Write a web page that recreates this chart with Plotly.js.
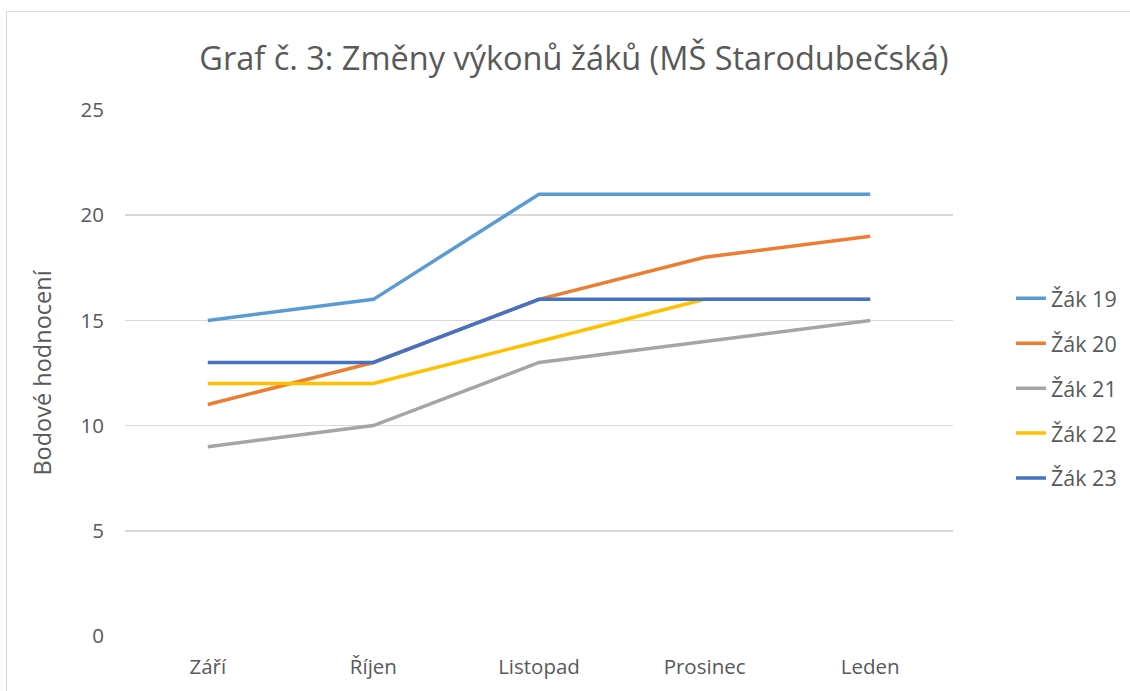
<!DOCTYPE html>
<html><head><meta charset="utf-8">
<script src="https://cdn.plot.ly/plotly-3.0.1.min.js"></script>
<style>
html,body{margin:0;padding:0;background:#fff;}
#wrap{position:relative;width:1130px;height:691px;overflow:hidden;}
#chart{position:absolute;left:0;top:0;width:1130px;height:691px;}
#border{position:absolute;left:6px;top:11px;width:1200px;height:800px;border:1.5px solid #d9d9d9;pointer-events:none;}
</style></head>
<body><div id="wrap"><div id="chart"></div><div id="border"></div></div>
<script>
const months = ["Září","Říjen","Listopad","Prosinec","Leden"];
const names = ["Žák 19","Žák 20","Žák 21","Žák 22","Žák 23"];
const zak19 = [15,16,21,21,21];
const zak20 = [11,13,16,18,19];
const zak21 = [9,10,13,14,15];
const zak22 = [12,12,14,16,16];
const zak23 = [13,13,16,16,16];
const colors = ["#5B9BD5","#ED7D31","#A5A5A5","#FFC000","#4472C4"];
const series = [zak19,zak20,zak21,zak22,zak23];
const font = "Open Sans, Liberation Sans, sans-serif";
const traces = series.map((s,i)=>({
  x: months, y: s, name: names[i], type:"scatter", mode:"lines",
  line:{color:colors[i], width:3.5}, legendgroup:"g"+i
}));
Plotly.newPlot("chart", traces, {
  width:1130, height:691,
  margin:{l:125, r:177, t:110, b:55, autoexpand:false},
  paper_bgcolor:"#fff", plot_bgcolor:"#fff",
  font:{family:font, color:"#595959", size:21},
  title:{text:"Graf č. 3: Změny výkonů žáků (MŠ Starodubečská)", x:0.508, xanchor:"center", y:0.915, yanchor:"middle", font:{size:32.5, color:"#595959", family:font}},
  xaxis:{type:"category", range:[-0.5,4.5], showgrid:false, zeroline:false, showline:false, ticks:"", tickfont:{size:20.5}, ticklabelstandoff:16, automargin:false},
  yaxis:{range:[0,25], dtick:5, showgrid:true, gridcolor:"#d9d9d9", gridwidth:1.5, zeroline:false, showline:false, ticks:"", ticklen:0, tickfont:{size:20.5}, ticklabelstandoff:20,
    title:{text:"Bodové hodnocení", font:{size:23.5, color:"#595959"}, standoff:22}, automargin:false},
  legend:{x:1.07, xanchor:"left", y:0.681, yanchor:"top", font:{size:21.5, color:"#595959"}, tracegroupgap:14, traceorder:"grouped", bgcolor:"rgba(0,0,0,0)"},
  showlegend:true
}, {staticPlot:true});
</script></body></html>
